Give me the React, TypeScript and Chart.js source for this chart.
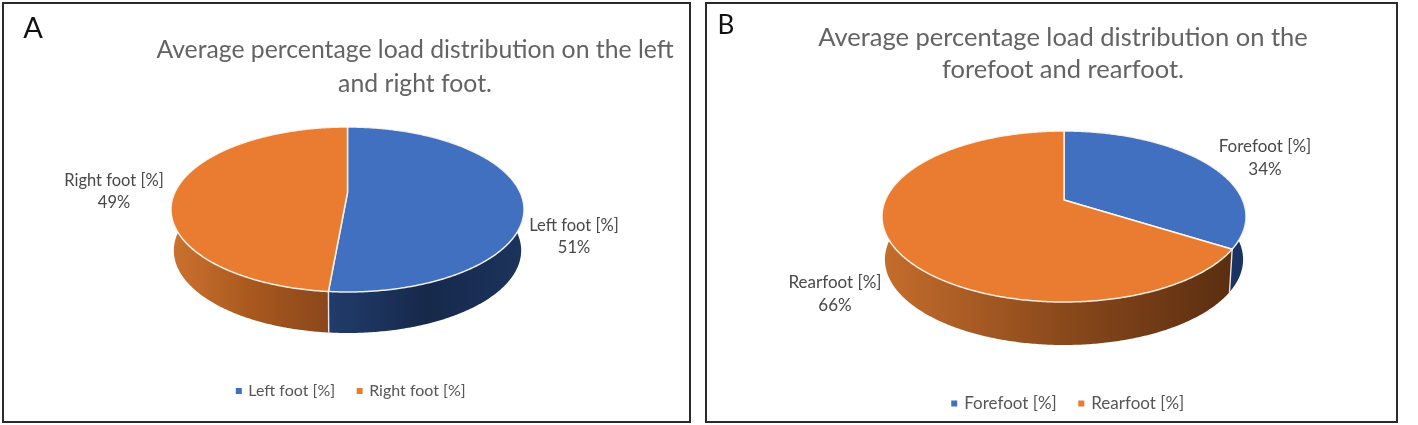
import React, { useEffect, useRef } from "react";
import { Chart, registerables } from "chart.js";

Chart.register(...registerables);

const leftRightLabels = ["Left foot [%]", "Right foot [%]"];
const leftRightValues = [51.4, 48.6];
const leftRightTitle = ["Average percentage load distribution on the left", "and right foot."];
const foreRearLabels = ["Forefoot [%]", "Rearfoot [%]"];
const foreRearValues = [34, 66];
const foreRearTitle = ["Average percentage load distribution on the", "forefoot and rearfoot."];

const BLUE = "#4170c1";
const ORANGE = "#e97c30";
const FONT = "Lato, 'Open Sans', sans-serif";
const LEGEND_PADDING = 23;

type Panel = {
  letter: string;
  letterSize: number;
  box: { x: number; y: number; w: number; h: number };
  letterPos: [number, number];
  labels: string[];
  values: number[];
  title: string[];
  titleSize: number;
  titleCx: number;
  titleTop: number;
  titleLine: number;
  legendCx: number;
  legendY: number;
  legendSize: number;
  labelSize: number;
  ell: { cx: number; cy: number; rx: number; ry: number; c: number; depth: number };
  labelAnchors: [number, number][];
  labelGap: number;
  walls: string[][];
};

const panels: Panel[] = [
  {
    letter: "A",
    letterSize: 29,
    box: { x: 4, y: 4, w: 685, h: 417 },
    letterPos: [33, 29],
    labels: leftRightLabels,
    values: leftRightValues,
    title: leftRightTitle,
    titleSize: 24.75,
    titleCx: 415,
    titleTop: 33,
    titleLine: 34,
    legendCx: 351.5,
    legendY: 392,
    legendSize: 16,
    labelSize: 16.5,
    ell: { cx: 347.5, cy: 209.5, rx: 176.5, ry: 82.5, c: -17, depth: 41 },
    labelAnchors: [[574, 226], [114, 181]],
    labelGap: 22,
    walls: [["#213c6b", "#16294b", "#1c335c"], ["#cc7230", "#a9591f", "#8a471b"]],
  },
  {
    letter: "B",
    letterSize: 26,
    box: { x: 707, y: 4, w: 689, h: 417 },
    letterPos: [726, 26],
    labels: foreRearLabels,
    values: foreRearValues,
    title: foreRearTitle,
    titleSize: 25.5,
    titleCx: 1063,
    titleTop: 22,
    titleLine: 32,
    legendCx: 1068.5,
    legendY: 404,
    legendSize: 17,
    labelSize: 17,
    ell: { cx: 1064, cy: 216.5, rx: 182, ry: 85.5, c: -16.5, depth: 43 },
    labelAnchors: [[1265, 147], [835, 283]],
    labelGap: 23,
    walls: [["#1b3362", "#1b3362", "#1b3362"], ["#c56d2c", "#8c4a1c", "#5a2e10"]],
  },
];

function makePie3d(p: Panel) {
  const { cx, cy, rx, ry, c, depth } = p.ell;
  const k = -c / ry;
  const a = rx * Math.sqrt(1 - k * k);
  const ox = p.box.x;
  const oy = p.box.y;
  const project = (ang: number, r = 1): [number, number] => {
    const u = r * Math.cos(ang);
    const v = r * Math.sin(ang);
    const w = 1 - k * v;
    return [cx - ox + (a * u) / w, cy - oy + (ry * v + c) / w];
  };
  const lowered = (pt: [number, number]): [number, number] => [
    cx - ox + (pt[0] - (cx - ox)) * 0.984,
    pt[1] + depth,
  ];
  const sample = (s: number, e: number) => {
    const n = Math.max(8, Math.ceil((e - s) / 0.01));
    const out: [number, number][] = [];
    for (let i = 0; i <= n; i++) out.push(project(s + ((e - s) * i) / n));
    return out;
  };
  return {
    id: "pie3d",
    beforeDatasetDraw(chart: any, args: any) {
      const ctx: CanvasRenderingContext2D = chart.ctx;
      const arcs = args.meta.data.map((el: any) => el.getProps(["startAngle", "endAngle"], true));
      const center = project(0, 0);
      ctx.save();
      arcs.forEach((arc: any, i: number) => {
        const pts = sample(arc.startAngle, arc.endAngle);
        const low = pts.map(lowered);
        const front = pts.filter((q, idx) => low[idx][1] > cy - oy);
        const xs = front.map((q) => q[0]);
        const g = ctx.createLinearGradient(Math.min(...xs), 0, Math.max(...xs), 0);
        const stops = p.walls[i];
        stops.forEach((col, j) => g.addColorStop(j / (stops.length - 1), col));
        ctx.beginPath();
        pts.forEach((q, idx) => (idx ? ctx.lineTo(q[0], q[1]) : ctx.moveTo(q[0], q[1])));
        low.reverse().forEach((q) => ctx.lineTo(q[0], q[1]));
        ctx.closePath();
        ctx.fillStyle = g;
        ctx.fill();
      });
      arcs.forEach((arc: any) => {
        const pt = project(arc.startAngle);
        if (pt[1] > center[1]) {
          const low = lowered(pt);
          ctx.beginPath();
          ctx.moveTo(pt[0], pt[1]);
          ctx.lineTo(low[0], low[1]);
          ctx.strokeStyle = "rgba(240,240,240,0.95)";
          ctx.lineWidth = 1.4;
          ctx.stroke();
        }
      });
      arcs.forEach((arc: any, i: number) => {
        const pts = sample(arc.startAngle, arc.endAngle);
        ctx.beginPath();
        ctx.moveTo(center[0], center[1]);
        pts.forEach((q) => ctx.lineTo(q[0], q[1]));
        ctx.closePath();
        ctx.fillStyle = i === 0 ? BLUE : ORANGE;
        ctx.fill();
        ctx.strokeStyle = "rgba(255,250,240,0.92)";
        ctx.lineWidth = 1.5;
        ctx.lineJoin = "round";
        ctx.stroke();
      });
      ctx.restore();
      return false;
    },
    afterLayout(chart: any) {
      const t = chart.titleBlock;
      const tw = t.right - t.left;
      t.left = p.titleCx - ox - tw / 2;
      t.right = t.left + tw;
      const th = t.bottom - t.top;
      t.top = p.titleTop - oy;
      t.bottom = t.top + th;
      const l = chart.legend;
      const lw = l.right - l.left;
      l.left = p.legendCx - ox - lw / 2;
      l.right = l.left + lw;
      const lh = l.bottom - l.top;
      l.top = p.legendY - oy - LEGEND_PADDING - 9;
      l.bottom = l.top + lh;
    },
    afterDraw(chart: any) {
      const ctx: CanvasRenderingContext2D = chart.ctx;
      ctx.save();
      ctx.textAlign = "center";
      ctx.textBaseline = "middle";
      ctx.font = `${p.labelSize}px ${FONT}`;
      ctx.fillStyle = "#484848";
      p.labels.forEach((lab, i) => {
        const [x, y] = p.labelAnchors[i];
        ctx.fillText(lab, x - ox, y - oy);
        ctx.fillText(`${Math.round(p.values[i])}%`, x - ox, y - oy + p.labelGap);
      });
      ctx.font = `${p.letterSize}px ${FONT}`;
      ctx.fillStyle = "#111111";
      ctx.fillText(p.letter, p.letterPos[0] - ox, p.letterPos[1] - oy);
      ctx.restore();
    },
  };
}

function PiePanel({ panel }: { panel: Panel }) {
  const ref = useRef<HTMLCanvasElement | null>(null);
  useEffect(() => {
    const chart = new Chart(ref.current as HTMLCanvasElement, {
      type: "pie",
      data: {
        labels: panel.labels,
        datasets: [{ data: panel.values, backgroundColor: [BLUE, ORANGE], borderWidth: 0 }],
      },
      options: {
        responsive: false,
        animation: false,
        plugins: {
          tooltip: { enabled: false },
          title: {
            display: true,
            text: panel.title,
            color: "#636363",
            font: { family: FONT, size: panel.titleSize, weight: "normal", lineHeight: panel.titleLine / panel.titleSize },
            padding: 0,
          },
          legend: {
            display: true,
            position: "bottom",
            labels: {
              color: "#565656",
              font: { family: FONT, size: panel.legendSize },
              usePointStyle: true,
              pointStyle: "rect",
              boxWidth: 3,
              boxHeight: 6,
              padding: LEGEND_PADDING,
            },
          },
        },
      },
      plugins: [makePie3d(panel)],
    } as any);
    return () => chart.destroy();
  }, [panel]);
  const { x, y, w, h } = panel.box;
  return (
    <div
      style={{
        position: "absolute",
        left: x - 2,
        top: y - 2,
        width: w,
        height: h,
        border: "2px solid #2a2a2a",
        background: "#fff",
      }}
    >
      <canvas
        ref={ref}
        width={w}
        height={h}
        style={{ display: "block", position: "absolute", left: 0, top: 0, width: w, height: h, filter: "blur(0.45px)" }}
      />
    </div>
  );
}

export default function App() {
  return (
    <div style={{ position: "absolute", left: 0, top: 0, width: 1418, height: 425, background: "#fff", overflow: "hidden" }}>
      {panels.map((p) => (
        <PiePanel key={p.letter} panel={p} />
      ))}
    </div>
  );
}
